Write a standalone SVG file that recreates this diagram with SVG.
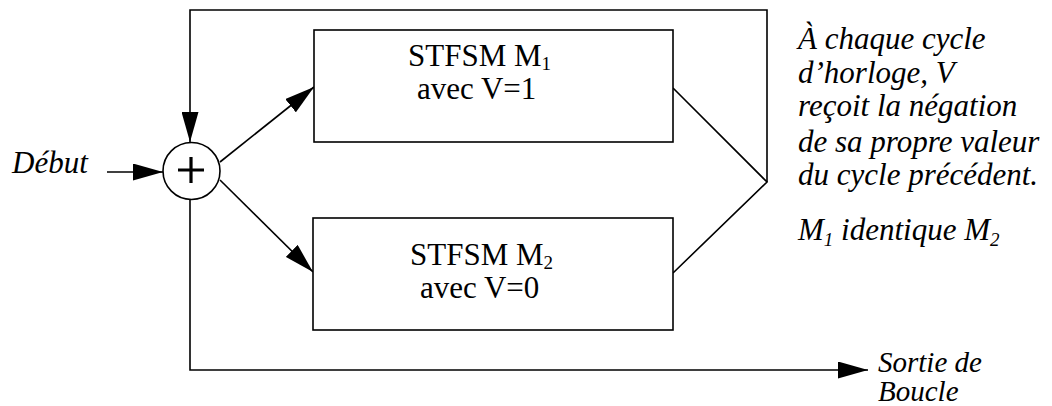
<svg xmlns="http://www.w3.org/2000/svg" width="1052" height="406" viewBox="0 0 1052 406">
  <style>
    .line { fill: none; stroke: #000; stroke-width: 1.6; }
    .box { fill: #fff; stroke: #000; stroke-width: 1.6; }
    .lbl { font-family: "Liberation Serif", "Times New Roman", serif; font-size: 31px; fill: #000; }
    .it { font-style: italic; }
    .sm { font-size: 29px; }
    .sub { font-size: 19px; }
  </style>
  <defs>
    <marker id="arrow" viewBox="0 0 30 17" refX="30" refY="8.5" markerWidth="30" markerHeight="17" markerUnits="userSpaceOnUse" orient="auto">
      <path d="M0,0 L30,8.5 L0,17 Z" fill="#000"/>
    </marker>
  </defs>

  <rect width="1052" height="406" fill="#fff"/>

  <!-- connectors -->
  <g id="connectors">
    <!-- feedback loop back to the adder -->
    <path class="line" d="M767,182 V10 H190 V142" marker-end="url(#arrow)"/>
    <!-- machine outputs joining the loop -->
    <path class="line" d="M673,88 L767,182 L673,273"/>
    <!-- start input -->
    <path class="line" d="M107,172 H163" marker-end="url(#arrow)"/>
    <!-- adder to the two machines -->
    <path class="line" d="M220,162 L314,87" marker-end="url(#arrow)"/>
    <path class="line" d="M220,180 L313,272" marker-end="url(#arrow)"/>
    <!-- loop exit -->
    <path class="line" d="M190,200 V370 H868" marker-end="url(#arrow)"/>
  </g>

  <!-- adder -->
  <g id="adder">
    <circle cx="191.5" cy="171" r="28.5" fill="#fff" stroke="#000" stroke-width="1.6"/>
    <path d="M178,170 H204 M191,157 V183" stroke="#000" stroke-width="3.2" fill="none"/>
  </g>

  <!-- machine M1 -->
  <g id="m1">
    <rect class="box" x="314" y="30" width="359" height="112"/>
    <text class="lbl" x="408" y="66">STFSM M<tspan class="sub" dy="4">1</tspan></text>
    <text class="lbl" x="417" y="99">avec V=1</text>
  </g>

  <!-- machine M2 -->
  <g id="m2">
    <rect class="box" x="313" y="218" width="360" height="112"/>
    <text class="lbl" x="410" y="265">STFSM M<tspan class="sub" dy="4">2</tspan></text>
    <text class="lbl" x="420" y="298">avec V=0</text>
  </g>

  <!-- start label -->
  <g id="start">
    <text class="lbl it" x="12" y="173">Début</text>
  </g>

  <!-- exit label -->
  <g id="exit">
    <text class="lbl it sm" x="878" y="372">Sortie de</text>
    <text class="lbl it sm" x="878" y="401">Boucle</text>
  </g>

  <!-- note -->
  <g id="note">
    <text class="lbl it" x="798" y="49">À chaque cycle</text>
    <text class="lbl it" x="798" y="83">d’horloge, V</text>
    <text class="lbl it" x="798" y="116">reçoit la négation</text>
    <text class="lbl it" x="798" y="152">de sa propre valeur</text>
    <text class="lbl it" x="798" y="185">du cycle précédent.</text>
    <text class="lbl it" x="798" y="240">M<tspan class="sub" dy="6">1</tspan><tspan dy="-6"> identique M</tspan><tspan class="sub" dy="6">2</tspan></text>
  </g>
</svg>
